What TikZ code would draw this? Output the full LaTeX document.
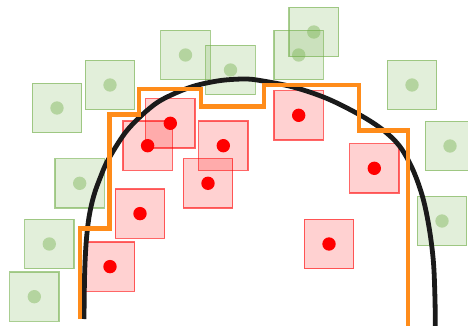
\documentclass[tikz,border=0pt]{standalone}
\usetikzlibrary{shapes.geometric}
\definecolor{gbase}{RGB}{112,173,71}
\definecolor{rbase}{RGB}{255,0,0}
\definecolor{orangeline}{RGB}{255,140,26}
\definecolor{blackline}{RGB}{26,26,26}
\tikzset{
  gbox/.style={rectangle,draw=gbase,draw opacity=0.6,fill=gbase,fill opacity=0.2,minimum size=49.5pt,line width=1.3pt,inner sep=0pt},
  gdot/.style={circle,fill=gbase,fill opacity=0.4,draw=none,minimum size=13.4pt,inner sep=0pt},
  rbox/.style={rectangle,draw=rbase,draw opacity=0.6,fill=rbase,fill opacity=0.18,minimum size=49.5pt,line width=1.3pt,inner sep=0pt},
  rdot/.style={circle,fill=rbase,draw=none,minimum size=13.4pt,inner sep=0pt},
  archline/.style={draw=blackline,line width=4.8pt},
  stepline/.style={draw=orangeline,line width=4.5pt,line join=miter}
}
\begin{document}
\begin{tikzpicture}[x=1pt,y=-1pt]
\useasboundingbox (0,0) rectangle (468,326);
% green squares
\foreach \n/\px/\py in {g1/57/108, g2/110/85, g3/185.5/55, g4/230.5/70, g5/298.7/55, g6/313.8/32, g7/412/85, g8/450/146, g9/442/221, g10/79.7/183.3, g11/49.3/244, g12/34.3/296.7}{
  \node[gbox] (\n) at (\px,\py) {};
  \node[gdot] (\n-dot) at (\n.center) {};
}
% red squares
\foreach \n/\px/\py in {r1/170.3/123.3, r2/147.6/145.7, r3/223.3/145.7, r4/208/183.3, r5/140/213.6, r6/110/266.6, r7/298.7/115.3, r8/374.3/168.3, r9/329/244}{
  \node[rbox] (\n) at (\px,\py) {};
  \node[rdot] (\n-dot) at (\n.center) {};
}
% black arch
\draw[archline] plot[smooth,tension=0.55] coordinates {
  (84,319) (84.6,275) (86.2,242) (89.2,216) (94,195) (100.5,177) (108,160) (125,133) (142,115) (158,102)
  (175,93.3) (192,86.7) (208,82.7) (225,80) (245,79) (260,80.5) (293,87)
  (327,98.5) (360,115) (383,130) (400,146.7) (413,170) (423,198.3)
  (429.5,230) (433.5,263) (435,300) (435.3,330)};
% orange step line
\draw[stepline] (80,319) -- (80,228.7) -- (109.4,228.7) -- (109.4,114.5)
  -- (139,114.5) -- (139,88.8) -- (201,88.8) -- (201,106.5) -- (263.8,106.5)
  -- (263.8,85) -- (359,85) -- (359,130.5) -- (408.2,130.5) -- (408.2,330);
\end{tikzpicture}
\end{document}
